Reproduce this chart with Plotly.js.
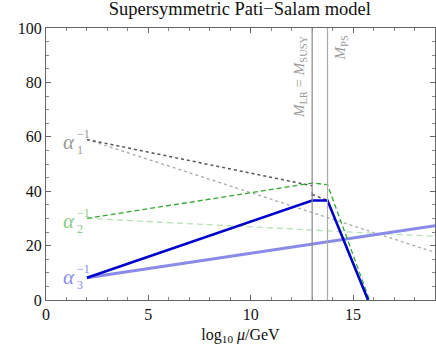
<!DOCTYPE html>
<html>
<head>
<meta charset="utf-8">
<script src="https://cdn.plot.ly/plotly-3.0.1.min.js"></script>
<style>
  html, body { margin: 0; padding: 0; background: #fff; }
  #chart { width: 436px; height: 345px; }
</style>
</head>
<body>
<div id="chart"></div>
<script>
// scales (log10 mu / GeV)
var muMZ = 2, muLR = 13, muPS = 13.75, muTop = 19;
var muEndA3 = 15.73, muEndA2 = 15.8;

// SM-like running (no new thresholds), faint lines
var smX = [muMZ, muTop];
var a1Sm = [59, 17.5];
var a2Sm = [30, 23.4];
var a3Sm = [8.2, 27.3];

// SUSY Pati-Salam running
var a1X = [muMZ, muLR];
var a1 = [59, 42];
var a1X2 = [muLR, muPS];
var a1b = [38.8, 36.6];
var jumpX = [muLR, muLR];
var jumpY = [39.8, 38.2];
var a2X = [muMZ, muLR, muPS, muEndA2];
var a2 = [30, 43, 42.4, 0];
var a3X = [muMZ, muLR, muPS, muEndA3];
var a3 = [8.2, 36.6, 36.6, 0];

// curve labels
var labelY = [58, 29, 8.3];
var labelIdx = ['1', '2', '3'];
var labelColors = ['#999999', '#88cc88', '#8a8ae8'];

var serif = 'Liberation Serif, Times New Roman, serif';

var data = [
  {x: smX, y: a1Sm, mode: 'lines', line: {color: '#aaaaaa', width: 1.3, dash: 'dot'}},
  {x: smX, y: a2Sm, mode: 'lines', line: {color: '#b8e0b8', width: 1.3, dash: '6px,4px'}},
  {x: smX, y: a3Sm, mode: 'lines', line: {color: '#8a8ae8', width: 3}},
  {x: a1X, y: a1, mode: 'lines', line: {color: '#555555', width: 1.5, dash: 'dot'}},
  {x: a1X2, y: a1b, mode: 'lines', line: {color: '#555555', width: 1.5, dash: 'dot'}},
  {x: jumpX, y: jumpY, mode: 'lines', line: {color: '#2020cc', width: 1}},
  {x: a2X, y: a2, mode: 'lines', line: {color: '#33a833', width: 1.3, dash: '5px,3px'}},
  {x: a3X, y: a3, mode: 'lines', line: {color: '#0000cc', width: 2.6}}
];

var axisCommon = {
  showline: true, mirror: 'ticks', linecolor: '#666', linewidth: 1,
  ticks: 'inside', ticklen: 5, tickcolor: '#666', showgrid: false, zeroline: false,
  tickfont: {family: serif, size: 16, color: '#111'}
};

var annotations = [
  {x: muLR, y: 98, xref: 'x', yref: 'y', xanchor: 'right', yanchor: 'top', xshift: -1, textangle: -90, showarrow: false,
    text: '<i>M</i><sub>LR</sub> = <i>M</i><sub>SUSY</sub>', font: {family: serif, size: 15, color: '#999'}},
  {x: muPS, y: 98, xref: 'x', yref: 'y', xanchor: 'left', yanchor: 'top', xshift: 2, textangle: -90, showarrow: false,
    text: '<i>M</i><sub>PS</sub>', font: {family: serif, size: 15, color: '#999'}}
];
// alpha with stacked sub/superscript, as three pieces
labelY.forEach(function(v, i) {
  var c = labelColors[i];
  annotations.push({x: 1.46, y: v, xref: 'x', yref: 'y', xanchor: 'right', showarrow: false, borderpad: 0,
    text: '<i>\u03b1</i>', font: {family: serif, size: 21, color: c}});
  annotations.push({x: 1.46, y: v, xref: 'x', yref: 'y', xanchor: 'left', showarrow: false, borderpad: 0,
    yshift: 8, text: '\u22121', font: {family: serif, size: 12, color: c}});
  annotations.push({x: 1.46, y: v, xref: 'x', yref: 'y', xanchor: 'left', showarrow: false, borderpad: 0,
    yshift: -8, text: labelIdx[i], font: {family: serif, size: 12, color: c}});
});

var layout = {
  width: 436, height: 345,
  margin: {l: 46, r: 1, t: 28, b: 45},
  font: {family: serif},
  paper_bgcolor: '#fff', plot_bgcolor: '#fff',
  showlegend: false,
  title: {text: 'Supersymmetric Pati\u2212Salam model', font: {family: serif, size: 18.5, color: '#111'},
    x: 0.55, xanchor: 'center', y: 0.995, yanchor: 'top'},
  xaxis: Object.assign({}, axisCommon, {
    range: [0, 19], tick0: 0, dtick: 5,
    minor: {dtick: 1, ticks: 'inside', ticklen: 3, tickcolor: '#888'},
    title: {text: 'log<sub>10</sub> <i>\u03bc</i>/GeV', font: {family: serif, size: 16, color: '#111'}, standoff: 8}
  }),
  yaxis: Object.assign({}, axisCommon, {
    range: [0, 100], tick0: 0, dtick: 20,
    minor: {dtick: 5, ticks: 'inside', ticklen: 3, tickcolor: '#888'}
  }),
  shapes: [
    {type: 'line', xref: 'x', yref: 'y', x0: muLR, x1: muLR, y0: 0, y1: 100, line: {color: '#888', width: 1.2}},
    {type: 'line', xref: 'x', yref: 'y', x0: muPS, x1: muPS, y0: 0, y1: 100, line: {color: '#aaa', width: 1.2}}
  ],
  annotations: annotations
};

Plotly.newPlot('chart', data, layout, {displayModeBar: false, staticPlot: true});
</script>
</body>
</html>
